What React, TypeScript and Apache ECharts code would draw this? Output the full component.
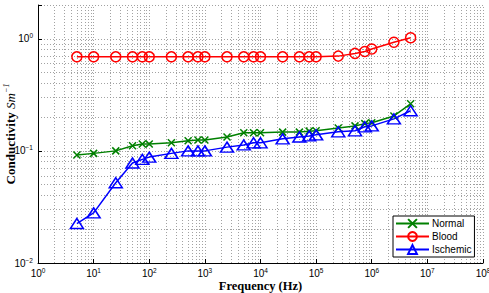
import React, { useEffect, useRef } from "react";
import * as echarts from "echarts";

const frequencies = [5, 10, 25, 50, 75, 100, 250, 500, 750, 1e3, 2.5e3, 5e3, 7.5e3, 1e4, 2.5e4, 5e4, 7.5e4, 1e5, 2.5e5, 5e5, 7.5e5, 1e6, 2.5e6, 5e6];
const normal = [0.092, 0.095, 0.1, 0.111, 0.115, 0.115, 0.118, 0.123, 0.125, 0.125, 0.133, 0.145, 0.145, 0.145, 0.147, 0.147, 0.15, 0.151, 0.16, 0.167, 0.175, 0.178, 0.205, 0.263];
const blood = [0.69, 0.69, 0.69, 0.69, 0.69, 0.69, 0.69, 0.69, 0.69, 0.69, 0.69, 0.69, 0.69, 0.69, 0.69, 0.69, 0.69, 0.69, 0.7, 0.74, 0.77, 0.81, 0.93, 1.02];
const ischemic = [0.0225, 0.028, 0.052, 0.078, 0.084, 0.088, 0.095, 0.1, 0.1, 0.1, 0.108, 0.113, 0.118, 0.118, 0.128, 0.133, 0.136, 0.139, 0.148, 0.151, 0.164, 0.167, 0.193, 0.228];

const xDecades = [1, 10, 100, 1e3, 1e4, 1e5, 1e6, 1e7];
const yDecades = [0.01, 0.1, 1];
const mantissas = [1, 2, 3, 4, 5, 6, 7, 8, 9];
const xMin = 1, xMax = 1e8, yMin = 0.01, yMax = 2;

const crossPath = "path://M0,0L10,10M10,0L0,10";

function supLabel(v: number) {
  const e = Math.log10(v);
  const r = Math.round(e);
  if (Math.abs(e - r) > 1e-6) return "";
  const s = r < 0 ? "\u2212" + String(-r) : String(r);
  return "{b|10}{s|" + s + "}";
}

const labelRich = {
  b: { fontSize: 10, fontFamily: "Liberation Sans", color: "#000", lineHeight: 11 },
  s: { fontSize: 6.5, fontFamily: "Liberation Sans", color: "#000", padding: [0, 0, 6, 0] },
};

export default function App() {
  const ref = useRef<HTMLDivElement>(null);
  useEffect(() => {
    if (!ref.current) return;
    const chart = echarts.init(ref.current, null, { renderer: "svg" });
    const gridData: any[] = [];
    xDecades.forEach((d) => mantissas.forEach((m) => gridData.push({ xAxis: d * m })));
    gridData.push({ xAxis: xMax });
    yDecades.forEach((d) => mantissas.forEach((m) => { if (d * m <= yMax) gridData.push({ yAxis: d * m }); }));
    const mk = (name: string, data: number[], color: string, symbol: string, size: any, fill: string) => ({
      name,
      type: "line",
      z: 3,
      data: frequencies.map((f, i) => [f, data[i]]),
      symbol,
      symbolSize: size,
      showAllSymbol: true,
      lineStyle: { color, width: 1.5 },
      itemStyle: { color: fill, borderColor: color, borderWidth: 1.5 },
      emphasis: { disabled: true },
    });
    chart.setOption({
      animation: false,
      grid: { left: 38, right: 6, top: 5, bottom: 30, containLabel: false, outerBoundsMode: "none" },
      legend: {
        data: ["Normal", "Blood", "Ischemic"],
        orient: "vertical",
        left: 393,
        top: 216,
        padding: [2, 3, 2, 2],
        itemGap: 2,
        itemWidth: 33,
        itemHeight: 11,
        borderColor: "#000",
        borderWidth: 1,
        borderRadius: 0,
        backgroundColor: "#fff",
        textStyle: { fontSize: 10, fontFamily: "Liberation Sans", color: "#000", lineHeight: 11, padding: [0, 0, 0, -2] },
      },
      xAxis: {
        type: "log",
        logBase: 10,
        min: xMin,
        max: xMax,
        name: "Frequency (Hz)",
        nameLocation: "middle",
        nameGap: 16,
        nameMoveOverlap: false,
        nameTextStyle: { fontFamily: "Liberation Serif", fontWeight: "bold", fontSize: 12.5, color: "#000", lineHeight: 13 },
        axisLine: { lineStyle: { color: "#000", width: 1 } },
        axisTick: { inside: true, length: 4, lineStyle: { color: "#000" } },
        axisLabel: { formatter: supLabel, rich: labelRich, margin: 4 },
        splitLine: { show: false },
      },
      yAxis: {
        type: "log",
        logBase: 10,
        min: yMin,
        max: yMax,
        name: "{b|Conductivity} {i|Sm}{s|\u22121}",
        nameLocation: "middle",
        nameGap: 20,
        nameMoveOverlap: false,
        nameRotate: 90,
        nameTextStyle: {
          rich: {
            b: { fontFamily: "Liberation Serif", fontWeight: "bold", fontSize: 13, color: "#000" },
            i: { fontFamily: "Liberation Serif", fontStyle: "italic", fontSize: 13, color: "#000" },
            s: { fontFamily: "Liberation Serif", fontStyle: "italic", fontSize: 8, color: "#000", padding: [0, 0, 8, 0] },
          },
        },
        axisLine: { show: true, lineStyle: { color: "#000", width: 1 } },
        axisTick: { inside: true, length: 4, lineStyle: { color: "#000" } },
        axisLabel: { formatter: supLabel, rich: labelRich, margin: 5 },
        splitLine: { show: false },
      },
      series: [
        {
          name: "grid",
          type: "line",
          data: [],
          z: 0,
          silent: true,
          markLine: {
            silent: true,
            z: 0,
            symbol: ["none", "none"],
            label: { show: false },
            lineStyle: { type: [1, 2], color: "#8a8a8a", width: 0.8 },
            emphasis: { disabled: true },
            data: gridData,
          },
        },
        mk("Normal", normal, "#008000", crossPath, 7, "#008000"),
        mk("Blood", blood, "#ff0000", "circle", 10, "rgba(0,0,0,0)"),
        mk("Ischemic", ischemic, "#0000ff", "triangle", [13, 10], "rgba(0,0,0,0)"),
      ],
    });
    return () => chart.dispose();
  }, []);
  return <div ref={ref} style={{ position: "fixed", left: 0, top: 0, width: 489, height: 293, background: "#fff" }} />;
}
